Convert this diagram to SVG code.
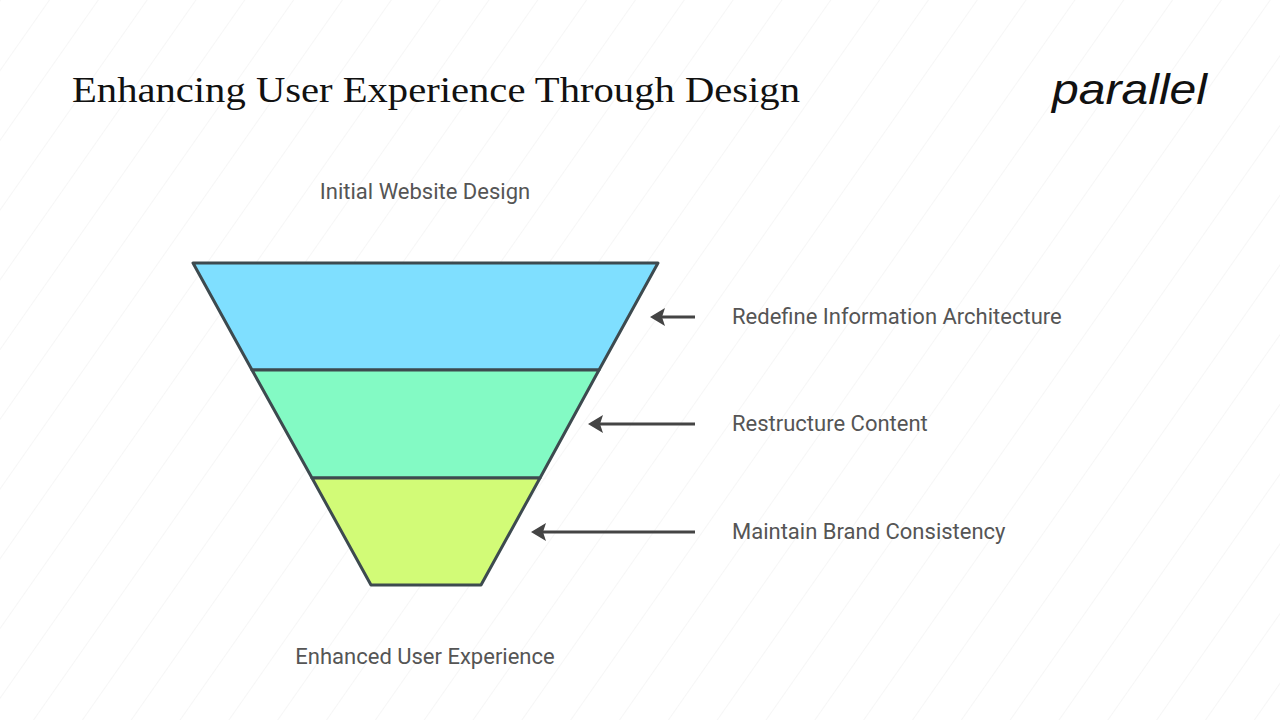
<svg xmlns="http://www.w3.org/2000/svg" width="1280" height="720" viewBox="0 0 1280 720">
<defs>
<style>
.lbl{font-family:Roboto,"Liberation Sans",sans-serif;font-size:22px;fill:#555}
.band{stroke:#3d4a4f;stroke-width:3;stroke-linejoin:round}
.arr{stroke:#444;stroke-width:3;fill:none}
</style>
<marker id="ah" markerWidth="6" markerHeight="6" refX="4" refY="3" orient="auto" markerUnits="strokeWidth">
<path d="M6,3 L1,0 L2,3 L1,6 Z" fill="#444"/>
</marker>
<pattern id="bg" width="40" height="40" patternUnits="userSpaceOnUse" patternTransform="rotate(35)">
<line x1="0" y1="0" x2="0" y2="40" stroke="#f0f0f0" stroke-width="1.2"/>
</pattern>
</defs>
<rect width="1280" height="720" fill="#fff"/>
<rect width="1280" height="720" fill="url(#bg)"/>
<text x="72" y="102" font-family="'Liberation Serif',serif" font-size="35" fill="#111" textLength="728" lengthAdjust="spacingAndGlyphs">Enhancing User Experience Through Design</text>
<text x="1052" y="104" font-family="'Liberation Sans',sans-serif" font-style="italic" font-size="42" fill="#111" textLength="155" lengthAdjust="spacingAndGlyphs">parallel</text>
<g id="nodes">
<g id="band1"><polygon class="band" points="193,263 658,263 599,370 252,370" fill="#7fdfff"/></g>
<g id="band2"><polygon class="band" points="252,370 599,370 540,478 312,478" fill="#83fac4"/></g>
<g id="band3"><polygon class="band" points="312,478 540,478 481,585 371,585" fill="#d2fb77"/></g>
<g id="top"><text class="lbl" x="425" y="199" text-anchor="middle">Initial Website Design</text></g>
<g id="bottom"><text class="lbl" x="425" y="664" text-anchor="middle">Enhanced User Experience</text></g>
<g id="l1"><text class="lbl" x="732" y="324">Redefine Information Architecture</text></g>
<g id="l2"><text class="lbl" x="732" y="431">Restructure Content</text></g>
<g id="l3"><text class="lbl" x="732" y="539">Maintain Brand Consistency</text></g>
</g>
<g id="connectors">
<line class="arr" x1="695" y1="317" x2="656" y2="317" marker-end="url(#ah)"/>
<line class="arr" x1="695" y1="424" x2="594" y2="424" marker-end="url(#ah)"/>
<line class="arr" x1="695" y1="532" x2="537" y2="532" marker-end="url(#ah)"/>
</g>
</svg>
